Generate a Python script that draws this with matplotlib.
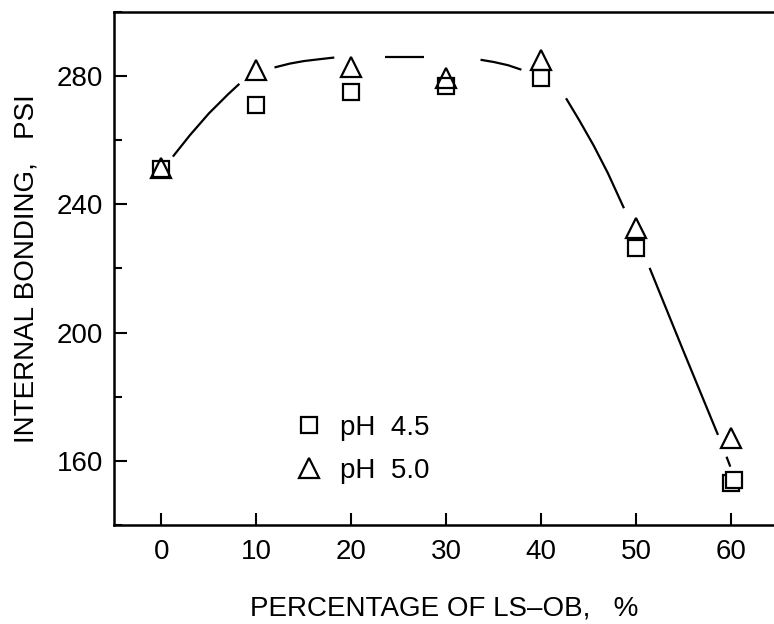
import matplotlib
matplotlib.use('Agg')
import matplotlib.pyplot as plt
from matplotlib.ticker import MultipleLocator

plt.rcParams['font.family'] = ['Liberation Sans', 'DejaVu Sans']

# measured points (percentage of LS-OB vs internal bonding, psi)
ph45_x = [0, 10, 20, 30, 40, 50, 60, 60.3]
ph45_y = [251, 271, 275, 277, 279.5, 226.5, 153, 154]
ph50_x = [0, 10, 20, 30, 40, 50, 60]
ph50_y = [251.5, 282, 283, 279.5, 285, 232.5, 167]

curve_pieces = [
    ([1.2, 3.0, 5.0, 7.0, 8.2], [254.9, 261.6, 268.4, 274.3, 277.6]),
    ([11.9, 13.5, 15.0, 16.7, 18.2], [282.7, 283.9, 284.7, 285.3, 285.8]),
    ([23.5, 27.6], [286.0, 286.0]),
    ([33.6, 35.0, 36.5, 37.9], [285.1, 284.4, 283.4, 282.0]),
    ([42.6, 44.0, 45.5, 47.0, 48.7], [273.1, 266.2, 258.4, 249.8, 238.8]),
    ([51.4, 54.9, 58.6], [220.2, 194.7, 168.1]),
    ([59.5, 59.9], [161.3, 158.2]),
]

fig = plt.figure(figsize=(7.74, 6.24), dpi=100)
ax = fig.add_axes([114 / 774, 99 / 624, 660 / 774, 513 / 624])

for xs, ys in curve_pieces:
    ax.plot(xs, ys, color='black', linewidth=1.6, solid_capstyle='butt')

ax.plot(ph45_x, ph45_y, linestyle='none', marker='s', markersize=11,
        markerfacecolor='white', markeredgecolor='black', markeredgewidth=1.6,
        label='pH  4.5')
ax.plot(ph50_x, ph50_y, linestyle='none', marker='^', markersize=15,
        markerfacecolor='none', markeredgecolor='black', markeredgewidth=1.6,
        label='pH  5.0')

ax.set_xlim(-5, 64.5)
ax.set_ylim(140, 300)
ax.xaxis.set_major_locator(MultipleLocator(10))
ax.yaxis.set_major_locator(MultipleLocator(40))
ax.yaxis.set_minor_locator(MultipleLocator(20))
ax.yaxis.set_major_formatter(matplotlib.ticker.FuncFormatter(
    lambda v, p: f'{v:.0f}' if v >= 160 and v <= 280 else ''))

ax.tick_params(axis='both', which='major', direction='in', length=9, width=1.5,
               labelsize=20, pad=8)
ax.tick_params(axis='x', which='major', pad=10)
ax.tick_params(axis='y', which='minor', direction='in', length=6, width=1.5)
ax.tick_params(top=False, right=False)

for side in ['left', 'bottom', 'top']:
    ax.spines[side].set_linewidth(1.8)
ax.spines['right'].set_visible(False)

ax.set_xlabel('PERCENTAGE OF LS\u2013OB,   %', fontsize=20, labelpad=22)
ax.set_ylabel('INTERNAL BONDING,   PSI', fontsize=20, labelpad=12)

ax.legend(loc='lower left', bbox_to_anchor=(0.237, 0.032), frameon=False,
          fontsize=20, handlelength=1.0, handletextpad=0.6, labelspacing=0.6)

fig.savefig('out.png', dpi=100)
